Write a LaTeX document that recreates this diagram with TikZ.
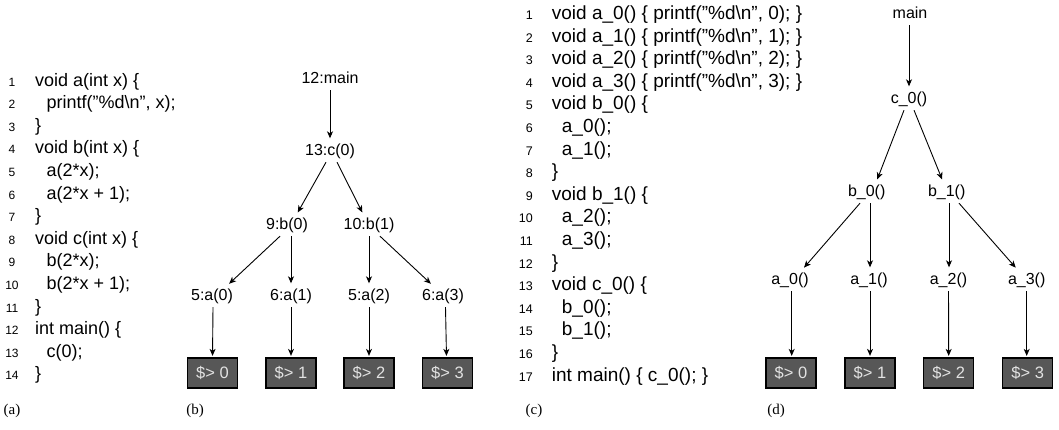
\documentclass[tikz,border=0pt]{standalone}
\usepackage{fontspec}
\setmainfont{Liberation Sans}
\newfontfamily\capfont{Liberation Serif}
\usetikzlibrary{arrows.meta}
\definecolor{boxfill}{HTML}{575757}
\definecolor{boxtext}{HTML}{E2E2E2}
\tikzset{
  codea/.style={font=\fontsize{18}{18}\selectfont, inner sep=0pt, anchor=base west},
  codec/.style={font=\fontsize{19}{19}\selectfont, inner sep=0pt, anchor=base west},
  lnuma/.style={font=\fontsize{12}{12}\selectfont, inner sep=0pt, anchor=base},
  lnumc/.style={font=\fontsize{12.5}{12.5}\selectfont, inner sep=0pt, anchor=base east},
  tl/.style={font=\fontsize{16}{16}\selectfont, text height=12pt, text depth=4pt, inner xsep=1pt, inner ysep=3pt, anchor=base},
  outbox/.style={draw=black, line width=1.3pt, fill=boxfill, text=boxtext, minimum width=50pt, minimum height=30pt, inner sep=0pt, font=\fontsize{16.5}{16.5}\selectfont},
  arr/.style={-{Stealth[length=7pt,width=6pt,inset=2pt]}, line width=0.9pt, shorten >=1.5pt},
  captext/.style={font=\capfont\fontsize{15}{15}\selectfont, inner sep=0pt, anchor=base}
}
\begin{document}
\begin{tikzpicture}[x=1pt,y=-1pt]
\useasboundingbox (0,0) rectangle (1059,429);
% ---------- (a) code ----------
\node[lnuma] (na1) at (12,86) {1};
\node[codea] (ca1) at (35,86) {void a(int x) \{};
\node[lnuma] (na2) at (12,108.6) {2};
\node[codea] (ca2) at (46.5,108.6) {printf("\%d\textbackslash n", x);};
\node[lnuma] (na3) at (12,131.2) {3};
\node[codea] (ca3) at (35,131.2) {\}};
\node[lnuma] (na4) at (12,153.8) {4};
\node[codea] (ca4) at (35,153.8) {void b(int x) \{};
\node[lnuma] (na5) at (12,176.4) {5};
\node[codea] (ca5) at (46.5,176.4) {a(2*x);};
\node[lnuma] (na6) at (12,199) {6};
\node[codea] (ca6) at (46.5,199) {a(2*x + 1);};
\node[lnuma] (na7) at (12,221.6) {7};
\node[codea] (ca7) at (35,221.6) {\}};
\node[lnuma] (na8) at (12,244.2) {8};
\node[codea] (ca8) at (35,244.2) {void c(int x) \{};
\node[lnuma] (na9) at (12,266.8) {9};
\node[codea] (ca9) at (46.5,266.8) {b(2*x);};
\node[lnuma] (na10) at (12,289.4) {10};
\node[codea] (ca10) at (46.5,289.4) {b(2*x + 1);};
\node[lnuma] (na11) at (12,312) {11};
\node[codea] (ca11) at (35,312) {\}};
\node[lnuma] (na12) at (12,334.6) {12};
\node[codea] (ca12) at (35,334.6) {int main() \{};
\node[lnuma] (na13) at (12,357.2) {13};
\node[codea] (ca13) at (46.5,357.2) {c(0);};
\node[lnuma] (na14) at (12,379.8) {14};
\node[codea] (ca14) at (35,379.8) {\}};
\node[captext] (capa) at (12,414) {(a)};
% ---------- (b) tree ----------
\node[tl] (bmain) at (330,83) {12:main};
\node[tl] (bc) at (330,155) {13:c(0)};
\node[tl] (bb0) at (287,229) {9:b(0)};
\node[tl] (bb1) at (369,229) {10:b(1)};
\node[tl] (ba0) at (212,300) {5:a(0)};
\node[tl] (ba1) at (291,300) {6:a(1)};
\node[tl] (ba2) at (369,300) {5:a(2)};
\node[tl] (ba3) at (443,300) {6:a(3)};
\node[outbox] (bo0) at (212.5,373) {\$> 0};
\node[outbox] (bo1) at (291,373) {\$> 1};
\node[outbox] (bo2) at (369,373) {\$> 2};
\node[outbox] (bo3) at (447.5,373) {\$> 3};
\draw[arr] (bmain) -- (bc);
\draw[arr] ([xshift=-4pt]bc.south) -- ([xshift=10pt]bb0.north);
\draw[arr] ([xshift=7pt]bc.south) -- ([xshift=-6pt]bb1.north);
\draw[arr] ([xshift=-7pt]bb0.south) -- ([xshift=16pt]ba0.north);
\draw[arr] ([xshift=4pt]bb0.south) -- (ba1.north);
\draw[arr] (bb1.south) -- (ba2.north);
\draw[arr] ([xshift=11pt]bb1.south) -- ([xshift=-11pt]ba3.north);
\draw[arr] ([xshift=1pt]ba0.south) -- (bo0.north);
\draw[arr] (ba1.south) -- (bo1.north);
\draw[arr] (ba2.south) -- (bo2.north);
\draw[arr] ([xshift=2.5pt]ba3.south) -- ([xshift=-1pt]bo3.north);
\node[captext] (capb) at (195,414) {(b)};
% ---------- (c) code ----------
\node[lnumc] (nc1) at (533,19.5) {1};
\node[codec] (cc1) at (551.7,19.5) {void a\_0() \{ printf("\%d\textbackslash n", 0); \}};
\node[lnumc] (nc2) at (533,42.1) {2};
\node[codec] (cc2) at (551.7,42.1) {void a\_1() \{ printf("\%d\textbackslash n", 1); \}};
\node[lnumc] (nc3) at (533,64.7) {3};
\node[codec] (cc3) at (551.7,64.7) {void a\_2() \{ printf("\%d\textbackslash n", 2); \}};
\node[lnumc] (nc4) at (533,87.3) {4};
\node[codec] (cc4) at (551.7,87.3) {void a\_3() \{ printf("\%d\textbackslash n", 3); \}};
\node[lnumc] (nc5) at (533,109.9) {5};
\node[codec] (cc5) at (551.7,109.9) {void b\_0() \{};
\node[lnumc] (nc6) at (533,132.5) {6};
\node[codec] (cc6) at (561.7,132.5) {a\_0();};
\node[lnumc] (nc7) at (533,155.1) {7};
\node[codec] (cc7) at (561.7,155.1) {a\_1();};
\node[lnumc] (nc8) at (533,177.7) {8};
\node[codec] (cc8) at (551.7,177.7) {\}};
\node[lnumc] (nc9) at (533,200.3) {9};
\node[codec] (cc9) at (551.7,200.3) {void b\_1() \{};
\node[lnumc] (nc10) at (533,222.9) {10};
\node[codec] (cc10) at (561.7,222.9) {a\_2();};
\node[lnumc] (nc11) at (533,245.5) {11};
\node[codec] (cc11) at (561.7,245.5) {a\_3();};
\node[lnumc] (nc12) at (533,268.1) {12};
\node[codec] (cc12) at (551.7,268.1) {\}};
\node[lnumc] (nc13) at (533,290.7) {13};
\node[codec] (cc13) at (551.7,290.7) {void c\_0() \{};
\node[lnumc] (nc14) at (533,313.3) {14};
\node[codec] (cc14) at (561.7,313.3) {b\_0();};
\node[lnumc] (nc15) at (533,335.9) {15};
\node[codec] (cc15) at (561.7,335.9) {b\_1();};
\node[lnumc] (nc16) at (533,358.5) {16};
\node[codec] (cc16) at (551.7,358.5) {\}};
\node[lnumc] (nc17) at (533,381.1) {17};
\node[codec] (cc17) at (551.7,381.1) {int main() \{ c\_0(); \}};
\node[captext] (capc) at (534,414) {(c)};
% ---------- (d) tree ----------
\node[tl] (dmain) at (910,18) {main};
\node[tl] (dc) at (909,103) {c\_0()};
\node[tl] (db0) at (866.7,196) {b\_0()};
\node[tl] (db1) at (946.7,196) {b\_1()};
\node[tl] (da0) at (790,284) {a\_0()};
\node[tl] (da1) at (869,284) {a\_1()};
\node[tl] (da2) at (948.5,284) {a\_2()};
\node[tl] (da3) at (1026.7,284) {a\_3()};
\node[outbox] (do0) at (791,373) {\$> 0};
\node[outbox] (do1) at (870,373) {\$> 1};
\node[outbox] (do2) at (948.7,373) {\$> 2};
\node[outbox] (do3) at (1027.7,373) {\$> 3};
\draw[arr] ([xshift=-1pt]dmain.south) -- (dc.north);
\draw[arr] ([xshift=-5pt]dc.south) -- ([xshift=10pt]db0.north);
\draw[arr] ([xshift=5pt]dc.south) -- ([xshift=-4pt]db1.north);
\draw[arr] ([xshift=-6.7pt]db0.south) -- ([xshift=13pt]da0.north);
\draw[arr] ([xshift=3.3pt]db0.south) -- ([xshift=1pt]da1.north);
\draw[arr] ([xshift=2.3pt]db1.south) -- ([xshift=0.5pt]da2.north);
\draw[arr] ([xshift=12.3pt]db1.south) -- ([xshift=-10pt]da3.north);
\draw[arr] ([xshift=1.7pt]da0.south) -- ([xshift=0.7pt]do0.north);
\draw[arr] ([xshift=1pt]da1.south) -- (do1.north);
\draw[arr] (da2.south) -- (do2.north);
\draw[arr] (da3.south) -- ([xshift=-1pt]do3.north);
\node[captext] (capd) at (776,414) {(d)};
\end{tikzpicture}
\end{document}
